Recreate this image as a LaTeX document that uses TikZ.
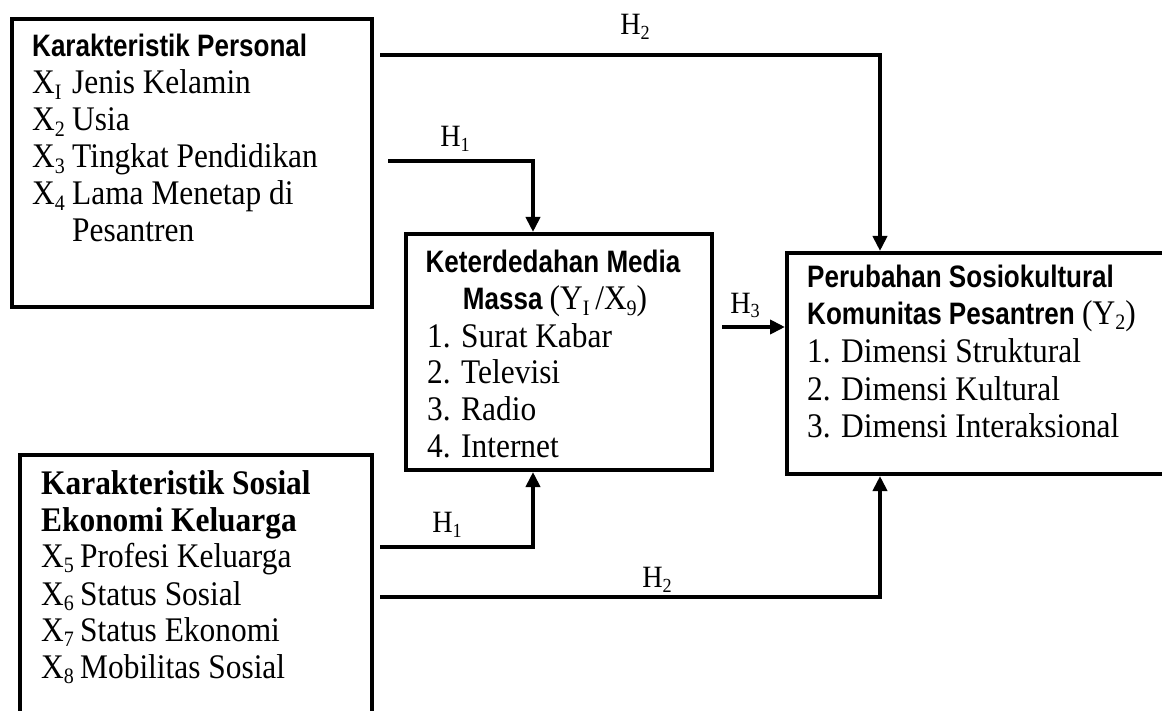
\documentclass[tikz,border=0pt]{standalone}
\usepackage{fontspec}
\setmainfont{Liberation Serif}[FakeStretch=0.91]
\newfontfamily\hvf{Liberation Sans}[FakeStretch=0.84]
\usetikzlibrary{arrows.meta}
\newcommand\sbs[1]{\raisebox{-5.5pt}{\fontsize{22}{22}\selectfont #1}}
\newcommand\sbl[1]{\raisebox{-5pt}{\fontsize{20}{20}\selectfont #1}}
\newcommand\xlab[3]{\makebox[#1][l]{X\sbs{#2}}#3}
\tikzset{
  box/.style={draw, line width=4pt, inner sep=0pt, anchor=north west, rectangle},
  conn/.style={line width=4pt},
  arr/.style={conn, -{Triangle[width=14pt,length=15pt]}},
  txt/.style={anchor=base west, inner sep=0pt, font=\fontsize{34.5}{37}\selectfont},
  hd/.style={anchor=base west, inner sep=0pt, font=\hvf\bfseries\fontsize{31}{37}\selectfont},
  chd/.style={anchor=base, inner sep=0pt, font=\hvf\bfseries\fontsize{31}{37}\selectfont},
  lab/.style={anchor=base, inner sep=0pt, font=\fontsize{31}{33}\selectfont}
}
\begin{document}
\begin{tikzpicture}[x=1pt,y=-1pt]
\useasboundingbox (0,0) rectangle (1162,711);
\clip (0,0) rectangle (1162,711);
% boxes
\node[box, minimum width=360pt, minimum height=288pt] (pers) at (10,17) {};
\node[box, minimum width=352pt, minimum height=300pt] (sos) at (18,453) {};
\node[box, minimum width=306pt, minimum height=236pt] (med) at (404,232) {};
\node[box, minimum width=400pt, minimum height=221pt] (per) at (785,251) {};
% box 1 text
\node[hd] (p0) at (32,57) {Karakteristik Personal};
\node[txt] (p1) at (32,94) {\xlab{40pt}{I}{Jenis Kelamin}};
\node[txt] (p2) at (32,131) {\xlab{40pt}{2}{Usia}};
\node[txt] (p3) at (32,168) {\xlab{40pt}{3}{Tingkat Pendidikan}};
\node[txt] (p4) at (32,205) {\xlab{40pt}{4}{Lama Menetap di}};
\node[txt] (p5) at (72,242) {Pesantren};
% box 2 text
\node[txt, font=\bfseries\fontsize{34.5}{37}\selectfont] (s0) at (41,494) {Karakteristik Sosial};
\node[txt, font=\bfseries\fontsize{34.5}{37}\selectfont] (s1) at (41,531) {Ekonomi Keluarga};
\node[txt] (s2) at (41,567) {\xlab{39pt}{5}{Profesi Keluarga}};
\node[txt] (s3) at (41,605) {\xlab{39pt}{6}{Status Sosial}};
\node[txt] (s4) at (41,641) {\xlab{39pt}{7}{Status Ekonomi}};
\node[txt] (s5) at (41,678) {\xlab{39pt}{8}{Mobilitas Sosial}};
% media text
\node[chd] (m0) at (553,273) {Keterdedahan Media};
\node[chd] (m1) at (555,310) {Massa {\rmfamily\mdseries\fontsize{34.5}{37}\selectfont (Y\sbs{I}\,/X\sbs{9})}};
\node[txt] (m2) at (427,347) {1. Surat Kabar};
\node[txt] (m3) at (427,383) {2. Televisi};
\node[txt] (m4) at (427,420) {3. Radio};
\node[txt] (m5) at (427,457) {4. Internet};
% perubahan text
\node[hd] (r0) at (807,288) {Perubahan Sosiokultural};
\node[hd] (r1) at (807,324) {Komunitas Pesantren {\rmfamily\mdseries\fontsize{34.5}{37}\selectfont (Y\sbs{2})}};
\node[txt] (r2) at (807,362) {1. Dimensi Struktural};
\node[txt] (r3) at (807,400) {2. Dimensi Kultural};
\node[txt] (r4) at (807,437) {3. Dimensi Interaksional};
% connector coordinates
\coordinate (a1) at (380,55);
\coordinate (a2) at (880,55);
\coordinate (b1) at (388,161);
\coordinate (b2) at (533,161);
\coordinate (c1) at (722,327);
\coordinate (d1) at (380,547);
\coordinate (d2) at (533,547);
\coordinate (e1) at (380,597);
\coordinate (e2) at (880,597);
% connectors
\draw[arr] (a1) -- (a2) -- (a2 |- per.north);
\draw[arr] (b1) -- (b2) -- (b2 |- med.north);
\draw[arr] (c1) -- (c1 -| per.west);
\draw[arr] (d1) -- (d2) -- (d2 |- med.south);
\draw[arr] (e1) -- (e2) -- (e2 |- per.south);
% labels
\node[lab] (l1) at (635,35) {H\sbl{2}};
\node[lab] (l2) at (455,147) {H\sbl{1}};
\node[lab] (l3) at (745,313) {H\sbl{3}};
\node[lab] (l4) at (447,532) {H\sbl{1}};
\node[lab] (l5) at (657,587) {H\sbl{2}};
\end{tikzpicture}
\end{document}
